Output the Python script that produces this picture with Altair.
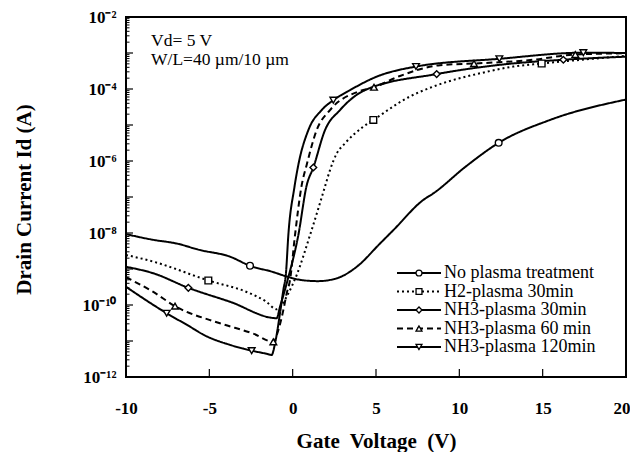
import altair as alt
import pandas as pd

SERIES = ["No plasma treatment", "H2-plasma 30min", "NH3-plasma 30min",
          "NH3-plasma 60 min", "NH3-plasma 120min"]
DASHES = [[1, 0], [2, 3], [1, 0], [6, 4], [1, 0]]
SHAPES = ["circle", "square", "diamond", "triangle-up", "triangle-down"]

# ---- curves (gate voltage V, drain current A) ----
v_none = [-10, -8.4, -6.96, -5.6, -3.76, -2.56, -1.2, -0.36, 0.44, 1.5, 2.64, 3.84,
          5.24, 6.04, 7.84, 8.44, 10.4, 12.36, 15.44, 20]
i_none = [9.3e-9, 6.5e-9, 5.1e-9, 3.4e-9, 2.2e-9, 1.23e-9, 8.3e-10, 6.2e-10, 5.0e-10,
          4.6e-10, 5.5e-10, 1.15e-9, 5.1e-9, 1.2e-8, 8.3e-8, 1.26e-7, 7.1e-7, 3.2e-6,
          1.38e-5, 5.1e-5]

v_h2 = [-10, -8.36, -5.06, -2.76, -1.6, -0.96, -0.66, -0.26, 0.24, 1.04, 1.94, 2.24,
        2.64, 3.14, 4.24, 4.84, 7.04, 8.44, 11.64, 13.24, 14.94, 20]
i_h2 = [2.45e-9, 1.6e-9, 4.8e-10, 2.3e-10, 1.25e-10, 7.6e-11, 1.0e-10, 2.1e-10, 6.8e-10,
        8.7e-9, 1.95e-7, 5.6e-7, 1.6e-6, 3.1e-6, 9.0e-6, 1.38e-5, 6.2e-5, 1.17e-4,
        3.0e-4, 4.2e-4, 5.1e-4, 8.3e-4]

v_n30 = [-10, -8.36, -6.26, -3.76, -0.96, -0.76, -0.3, 0.34, 0.84, 1.24, 1.94, 2.84,
         4.34, 8.64, 12.44, 16.24, 20]
i_n30 = [1.15e-9, 7.6e-10, 3.0e-10, 1.23e-10, 4.3e-11, 8.9e-11, 5.0e-10, 8.7e-9, 2.1e-7,
         6.6e-7, 7.2e-6, 2.6e-5, 9.3e-5, 2.6e-4, 4.7e-4, 6.5e-4, 7.9e-4]

v_n60 = [-10, -8.36, -7.06, -4.36, -2.36, -1.16, -0.86, -0.56, -0.36, -0.16, 0.14, 0.54,
         0.84, 1.44, 2.24, 3.94, 4.88, 6.44, 8.84, 10.88, 14.44, 16.96, 20]
i_n60 = [5.9e-10, 2.3e-10, 9.3e-11, 3.1e-11, 1.6e-11, 9.5e-12, 2.0e-11, 7.2e-11, 2.1e-10,
         4.9e-10, 8.7e-9, 2.1e-7, 7.8e-7, 7.2e-6, 2.6e-5, 8.5e-5, 1.12e-4, 2.3e-4,
         4.6e-4, 5.1e-4, 6.5e-4, 9.1e-4, 9.8e-4]

v_n120 = [-10, -7.56, -6.16, -5.36, -3.76, -2.46, -1.56, -1.26, -1.06, -0.76, -0.56, -0.4,
          -0.26, 0.1, 0.34, 0.94, 1.74, 2.44, 3.44, 5.04, 7.4, 12.4, 17.44, 20]
i_n120 = [3.2e-10, 5.9e-11, 2.5e-11, 1.5e-11, 7.8e-12, 5.4e-12, 4.4e-12, 4.1e-12, 8.5e-12,
          5.9e-11, 2.6e-10, 7.9e-10, 8.7e-9, 1.8e-7, 7.8e-7, 7.2e-6, 2.6e-5, 4.9e-5,
          9.3e-5, 2.2e-4, 4.2e-4, 6.9e-4, 1.02e-3, 1.0e-3]

# ---- marker positions ----
mv_none = [-2.56, 12.36]
mi_none = [1.23e-9, 3.2e-6]
mv_h2 = [-5.06, 4.84, 14.94]
mi_h2 = [4.8e-10, 1.38e-5, 5.1e-4]
mv_n30 = [-6.26, 1.24, 8.64, 16.24]
mi_n30 = [3.0e-10, 6.6e-7, 2.6e-4, 6.5e-4]
mv_n60 = [-7.06, -1.16, 4.88, 10.88, 16.96]
mi_n60 = [9.3e-11, 9.5e-12, 1.12e-4, 5.1e-4, 9.1e-4]
mv_n120 = [-7.56, -2.46, 2.44, 7.4, 12.4, 17.44]
mi_n120 = [5.9e-11, 5.4e-12, 4.9e-5, 4.2e-4, 6.9e-4, 1.02e-3]

X_TICKS = [-5, 0, 5, 10, 15]
X_LABELS = [-10, -5, 0, 5, 10, 15, 20]
Y_DECADES = [1e-12, 1e-11, 1e-10, 1e-9, 1e-8, 1e-7, 1e-6, 1e-5, 1e-4, 1e-3, 1e-2]
Y_LABELS = [1e-12, 1e-10, 1e-8, 1e-6, 1e-4, 1e-2]
Y_MINOR = [m * d for d in Y_DECADES[:-1] for m in range(2, 10)]
ANNOT = "Vd= 5 V\nW/L=40 \u00b5m/10 \u00b5m"
X_TITLE = "Gate\u00a0 Voltage\u00a0 (V)"
Y_TITLE = "Drain Current Id (A)"

curve_sets = [(v_none, i_none), (v_h2, i_h2), (v_n30, i_n30), (v_n60, i_n60), (v_n120, i_n120)]
marker_sets = [(mv_none, mi_none), (mv_h2, mi_h2), (mv_n30, mi_n30), (mv_n60, mi_n60),
               (mv_n120, mi_n120)]

rows = []
for s, (vs, iz) in zip(SERIES, curve_sets):
    for k, (v, i) in enumerate(zip(vs, iz)):
        rows.append({"series": s, "V": v, "I": i, "order": k})
curves = pd.DataFrame(rows)

mrows = []
for s, (vs, iz) in zip(SERIES, marker_sets):
    for v, i in zip(vs, iz):
        mrows.append({"series": s, "V": v, "I": i})
markers = pd.DataFrame(mrows)

FONT = "Liberation Serif"

x_scale = alt.Scale(domain=[-10, 20], nice=False, zero=False)
y_scale = alt.Scale(type="log", domain=[1e-12, 1e-2], nice=False)
dash_scale = alt.Scale(domain=SERIES, range=DASHES)
shape_scale = alt.Scale(domain=SERIES, range=SHAPES)

label_expr = (
    "datum.value < 3e-12 ? '10\u207b\u00b9\u00b2' : datum.value < 3e-10 ? '10\u207b\u00b9\u2070' : "
    "datum.value < 3e-8 ? '10\u207b\u2078' : datum.value < 3e-6 ? '10\u207b\u2076' : "
    "datum.value < 3e-4 ? '10\u207b\u2074' : '10\u207b\u00b2'"
)
x_label_expr = "datum.value < 0 ? '-' + abs(datum.value) : '' + datum.value"

x_axis = alt.Axis(values=X_LABELS, labelExpr=x_label_expr, title=X_TITLE, grid=False,
                  ticks=False, domain=False, labelFlush=False, labelFont=FONT,
                  labelAlign={"condition": {"test": "datum.value >= 20", "value": "right"},
                              "value": "center"},
                  labelOffset={"condition": {"test": "datum.value >= 20", "value": 4},
                               "value": 0},
                  labelFontSize=17, labelFontWeight="bold", labelColor="black",
                  labelPadding=23, titleFont=FONT, titleFontSize=21, titleFontWeight="bold",
                  titleColor="black", titleY=70, titleBaseline="alphabetic")
y_axis = alt.Axis(values=Y_LABELS, labelExpr=label_expr, title=Y_TITLE,
                  grid=False, ticks=False, domain=False, labelFont=FONT, labelFontSize=17,
                  labelFontWeight="bold", labelColor="black", labelPadding=10,
                  titleFont=FONT, titleFontSize=21, titleFontWeight="bold",
                  titleColor="black", titleX=-96, titleY=182, titleAngle=-90,
                  titleBaseline="alphabetic", titleAlign="center")

lines = alt.Chart(curves).mark_line(interpolate="monotone", color="black", strokeWidth=2).encode(
    x=alt.X("V:Q", scale=x_scale, axis=x_axis),
    y=alt.Y("I:Q", scale=y_scale, axis=y_axis),
    strokeDash=alt.StrokeDash("series:N", scale=dash_scale, legend=None),
    order="order:Q",
)

points = alt.Chart(markers).mark_point(filled=True, fill="white", stroke="black",
                                       strokeWidth=1.4, opacity=1, size=45).encode(
    x=alt.X("V:Q", scale=x_scale, axis=x_axis),
    y=alt.Y("I:Q", scale=y_scale, axis=y_axis),
    shape=alt.Shape("series:N", scale=shape_scale, legend=None),
)

ymaj = alt.Chart(pd.DataFrame({"I": Y_DECADES})).mark_rule(color="black", strokeWidth=1.2).encode(
    y=alt.Y("I:Q", scale=y_scale, axis=y_axis), x=alt.value(0), x2=alt.value(7))
ymin = alt.Chart(pd.DataFrame({"I": Y_MINOR})).mark_rule(color="black", strokeWidth=1).encode(
    y=alt.Y("I:Q", scale=y_scale, axis=y_axis), x=alt.value(0), x2=alt.value(3.5))
xmaj = alt.Chart(pd.DataFrame({"V": X_TICKS})).mark_rule(color="black", strokeWidth=1.2).encode(
    x=alt.X("V:Q", scale=x_scale, axis=x_axis), y=alt.value(360), y2=alt.value(352))

annot = alt.Chart(pd.DataFrame({"t": [ANNOT]})).mark_text(
    align="left", baseline="alphabetic", font=FONT, fontSize=17.5, lineBreak="\n",
    lineHeight=18.5, color="black").encode(text="t:N", x=alt.value(25), y=alt.value(29))

main = alt.layer(lines, ymaj, ymin, xmaj, points, annot)

leg_df = pd.DataFrame({"series": SERIES, "row": list(range(len(SERIES)))})
leg_y = alt.Y("row:Q", scale=alt.Scale(domain=[0, 4], range=[256, 330]), axis=None)
leg_rule = alt.Chart(leg_df).mark_rule(color="black", strokeWidth=2).encode(
    y=leg_y, x=alt.value(271), x2=alt.value(315),
    strokeDash=alt.StrokeDash("series:N", scale=dash_scale, legend=None))
leg_pts = alt.Chart(leg_df).mark_point(filled=True, fill="white", stroke="black",
                                       strokeWidth=1.3, opacity=1, size=35).encode(
    y=leg_y, x=alt.value(293),
    shape=alt.Shape("series:N", scale=shape_scale, legend=None))
leg_txt = alt.Chart(leg_df).mark_text(align="left", baseline="middle", font=FONT,
                                      fontSize=18, color="black").encode(
    y=leg_y, x=alt.value(318), text="series:N")
legend = alt.layer(leg_rule, leg_pts, leg_txt)

chart = alt.layer(main, legend).resolve_scale(y="independent").properties(
    width=500, height=360,
    padding={"left": 118, "top": 9, "right": 4, "bottom": 75},
    autosize=alt.AutoSizeParams(type="none"),
).configure_view(stroke="black", strokeWidth=2)

chart.save("out.html", embed_options={"renderer": "svg", "actions": False})
